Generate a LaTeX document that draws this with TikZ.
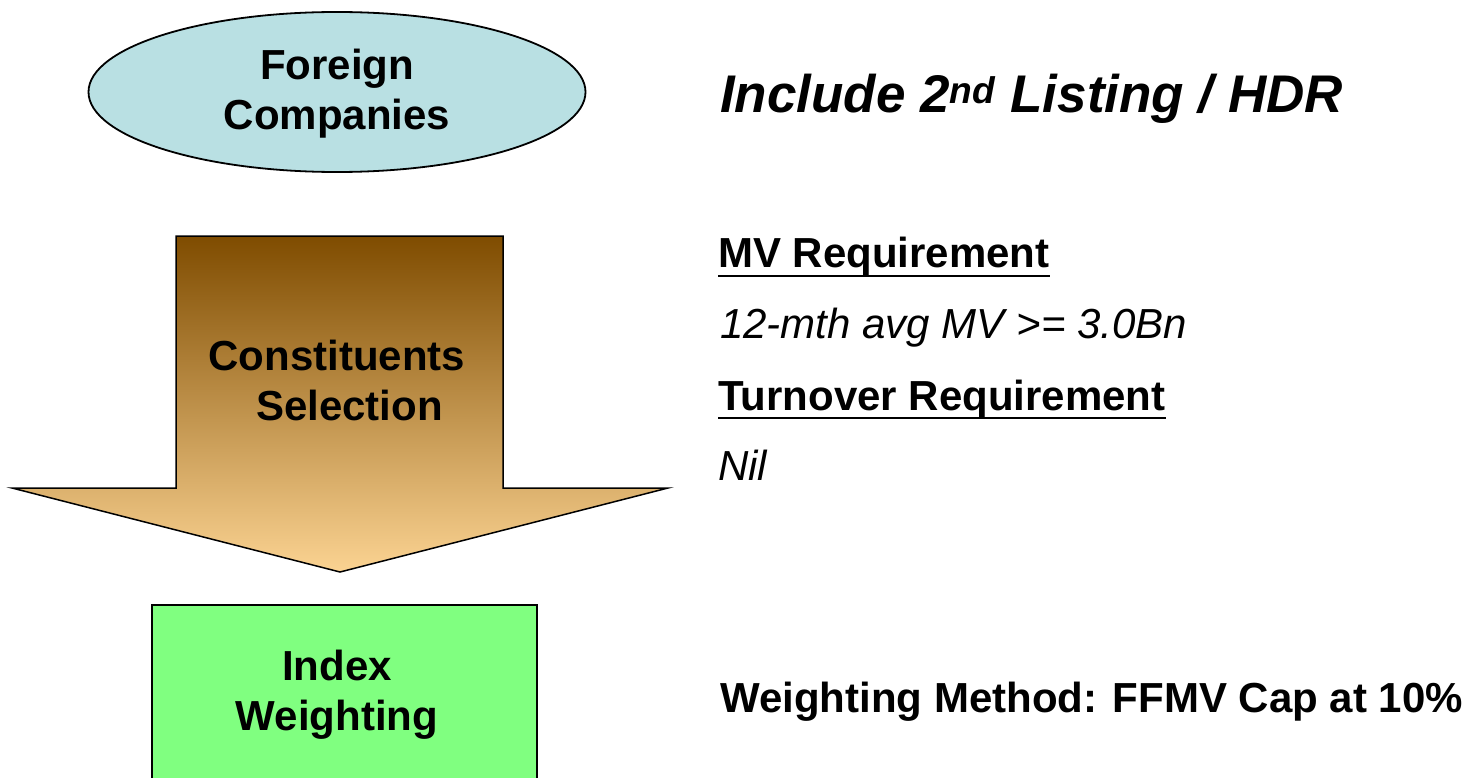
\documentclass[tikz,border=0pt]{standalone}
\usepackage{fontspec}
\setmainfont{Liberation Sans}
\usetikzlibrary{shapes.geometric}
\definecolor{ellfill}{RGB}{185,224,227}
\definecolor{boxgreen}{RGB}{128,255,128}
\definecolor{arrtop}{RGB}{127,76,0}
\definecolor{arrbot}{RGB}{251,211,146}
\begin{document}
\begin{tikzpicture}[x=1pt,y=-1pt,
  big/.style={font=\fontsize{42}{50}\selectfont\bfseries, align=center, inner sep=0pt},
  rtext/.style={anchor=base west, inner sep=0pt},
  rbold/.style={rtext, font=\fontsize{42}{50}\selectfont\bfseries},
  rital/.style={rtext, font=\fontsize{42}{50}\selectfont\itshape},
  uline/.style={line width=2.5pt}]
\useasboundingbox (0,0) rectangle (1474,778);
\fill[white] (0,0) rectangle (1474,778);
% ellipse
\node[ellipse, draw=black, line width=1.8pt, fill=ellfill, minimum width=497pt, minimum height=160pt, inner sep=0pt] (fcshape) at (337,92) {};
\node[big, anchor=base] (fc) at (337,130) {Foreign\\Companies};
% big arrow
\path[draw=black, line width=1.5pt, top color=arrtop, bottom color=arrbot]
  (176,236) -- (503,236) -- (503,488) -- (668,488) -- (340,572) -- (12,488) -- (176,488) -- cycle;
\node[big, anchor=base] (cs) at (337,420) {Constituents\\\hspace*{25pt}Selection};
% green box
\filldraw[draw=black, line width=2pt, fill=boxgreen] (152,605) rectangle (537,800);
\node[big, anchor=base] (iw) at (337,730) {Index\\Weighting};
% right texts
\node[rtext, font=\fontsize{53}{60}\selectfont\bfseries\itshape] (inc) at (720,113) {Include 2\textsuperscript{nd} Listing / HDR};
\node[rbold] (mv) at (718,267) {MV Requirement};
\draw[uline] ([yshift=-9pt]mv.base west) -- ([yshift=-9pt]mv.base east);
\node[rital] (mvval) at (720,338) {12-mth avg MV >= 3.0Bn};
\node[rbold] (to) at (718,410) {Turnover Requirement};
\draw[uline] ([yshift=-8pt]to.base west) -- ([yshift=-8pt]to.base east);
\node[rital] (toval) at (718,480) {Nil};
\node[rbold] (wm) at (720,712) {Weighting Method: FFMV Cap at 10\%};
\end{tikzpicture}
\end{document}
